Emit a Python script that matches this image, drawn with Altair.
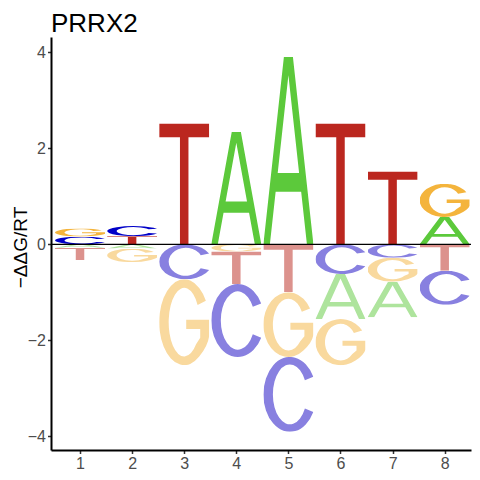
import base64
import altair as alt
import pandas as pd

# ---- data ----
positions = [1, 2, 3, 4, 5, 6, 7, 8]
letters = ["A", "C", "G", "T"]
ddg_A = [-0.07, -0.09, 0.00, 2.35, 3.91, -0.94, -0.74, 0.57]
ddg_C = [0.16, 0.21, -0.73, -1.52, -1.56, -0.62, -0.28, -0.71]
ddg_G = [0.17, -0.28, -1.79, -0.15, -1.35, -0.96, -0.50, 0.69]
ddg_T = [-0.26, 0.17, 2.52, -0.68, -1.00, 2.52, 1.52, -0.55]
y_ticks = [-4, -2, 0, 2, 4]
title_text = "PRRX2"
y_title = "\u2212\u0394\u0394G/RT"

# ---- styles ----
color_up = {"A": "#5CC93B", "C": "#0000C8", "G": "#F4B43C", "T": "#BB271F"}
color_down = {"A": "#AEE49D", "C": "#8880E0", "G": "#F9D99E", "T": "#DC928D"}
glyph_paths = {
    "A": "M0 100L41 0H59L100 100H87L75.5 72H24.5L13 100ZM50 9.8L71.4 62H28.6Z",
    "C": "M99.8 26.5A53 50 0 1 0 99.8 73.5L83 68.8A34 40 0 1 1 83 31.2Z",
    "G": "M93.3 25A50 50 0 1 0 80 90Q97 78 100 66V47H54V58H82V68L73.7 75.7A31 40 0 1 1 76.8 30Z",
    "T": "M0 0H100V11.5H58.5V100H41.5V11.5H0Z",
}


def glyph_url(letter, color):
    svg = (
        '<svg xmlns="http://www.w3.org/2000/svg" width="100" height="100" '
        'viewBox="0 0 100 100" preserveAspectRatio="none">'
        f'<path d="{glyph_paths[letter]}" fill="{color}" fill-rule="evenodd"/></svg>'
    )
    return "data:image/svg+xml;base64," + base64.b64encode(svg.encode()).decode()


ddg = {"A": ddg_A, "C": ddg_C, "G": ddg_G, "T": ddg_T}
rows = []
for i, p in enumerate(positions):
    vals = [(L, ddg[L][i]) for L in letters if ddg[L][i] != 0]
    ups = sorted([v for v in vals if v[1] > 0], key=lambda t: t[1])
    downs = sorted([v for v in vals if v[1] < 0], key=lambda t: -t[1])
    base = 0.0
    for L, v in ups:
        rows.append(dict(pos=p, letter=L, y0=base, y1=base + v, url=glyph_url(L, color_up[L])))
        base += v
    base = 0.0
    for L, v in downs:
        rows.append(dict(pos=p, letter=L, y0=base, y1=base + v, url=glyph_url(L, color_down[L])))
        base += v
df = pd.DataFrame(rows)

FONT = "Liberation Sans"
xscale = alt.Scale(domain=[0.443, 8.505], nice=False, zero=False)
yscale = alt.Scale(domain=[-4.29, 4.323], nice=False, zero=False)

letters_layer = (
    alt.Chart(df)
    .transform_calculate(xl="datum.pos - 0.48", xr="datum.pos + 0.48")
    .mark_image(aspect=False)
    .encode(
        x=alt.X("xl:Q", scale=xscale,
                axis=alt.Axis(title=None, values=positions, format="d")),
        x2="xr:Q",
        y=alt.Y("y0:Q", scale=yscale,
                axis=alt.Axis(title=y_title, values=y_ticks, format="d",
                              titleX=-31, titleY=210, titleAngle=270,
                              titleAlign="center", titleBaseline="middle")),
        y2="y1:Q",
        url="url:N",
    )
)

zero_layer = (
    alt.Chart(pd.DataFrame({"zero": [0]}))
    .mark_rule(color="black", strokeWidth=1.3)
    .encode(y=alt.Y("zero:Q", scale=yscale))
)

title_layer = (
    alt.Chart(pd.DataFrame({"t": [title_text]}))
    .mark_text(align="left", baseline="alphabetic", fontSize=26, font=FONT,
               color="black", clip=False)
    .encode(text="t:N", x=alt.value(0), y=alt.value(-5))
)

chart = (
    alt.layer(letters_layer, zero_layer, title_layer)
    .properties(
        width=420,
        height=413,
        autosize=alt.AutoSizeParams(type="none"),
        padding={"left": 43, "top": 29, "right": 1, "bottom": 21},
    )
    .configure_view(stroke=None)
    .configure_axis(
        grid=False,
        domainColor="black",
        domainWidth=2,
        tickColor="#333333",
        tickWidth=1.5,
        tickSize=3.5,
        labelColor="#4D4D4D",
        labelFont=FONT,
        labelFontSize=16,
        labelPadding=2,
        titleFont=FONT,
        titleFontSize=19,
        titleFontWeight="normal",
        titleColor="black",
    )
)

chart.save("out.html", embed_options={"renderer": "svg", "actions": False})
